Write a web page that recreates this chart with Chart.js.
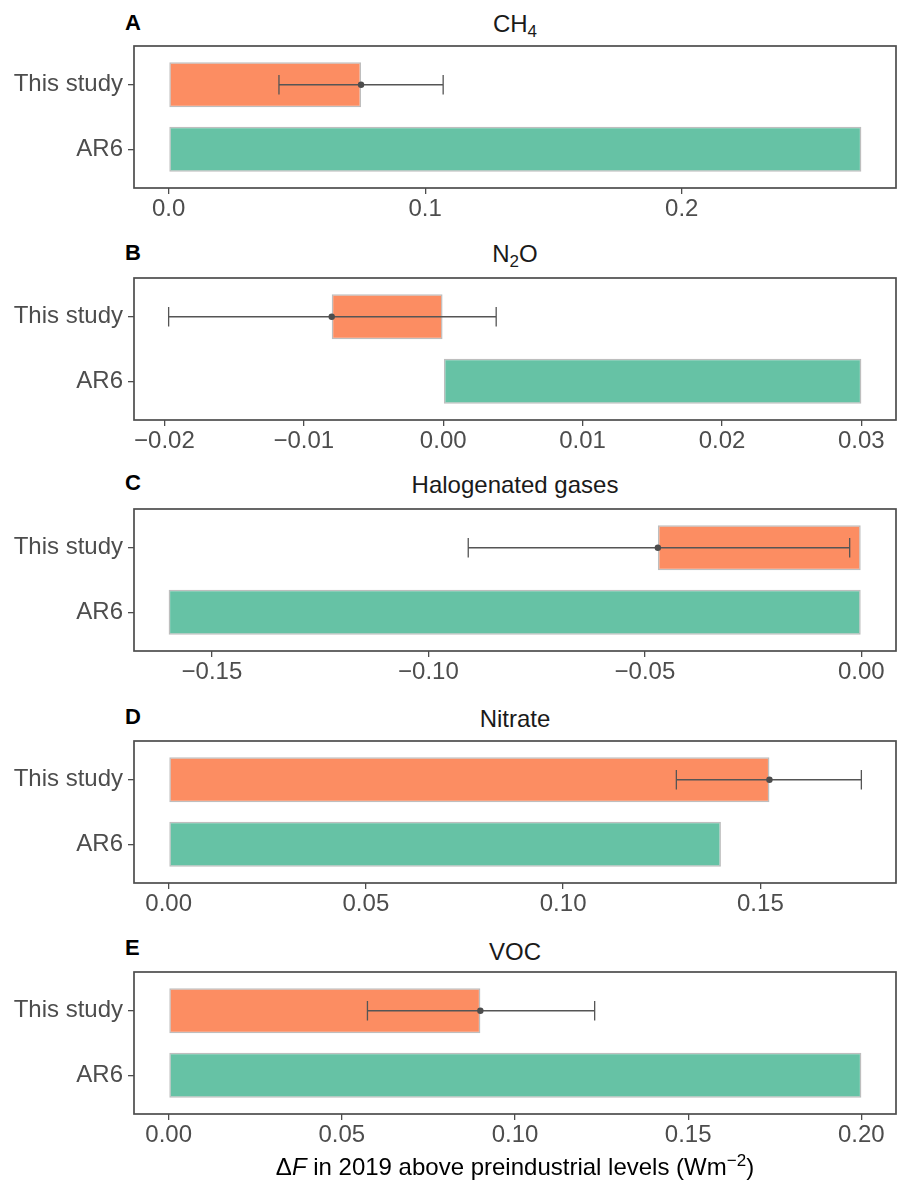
<!DOCTYPE html>
<html><head><meta charset="utf-8">
<script src="https://cdn.jsdelivr.net/npm/chart.js@4.4.1/dist/chart.umd.min.js"></script>
<style>
html,body{margin:0;padding:0;background:#fff;}
body{width:897px;height:1184px;position:relative;overflow:hidden;font-family:"Liberation Sans",Arial,sans-serif;}
canvas.cv{position:absolute;left:0;}
.lab{position:absolute;left:125px;font-weight:bold;font-size:22px;color:#000;line-height:1;white-space:nowrap;}
.ttl{position:absolute;left:134px;width:762px;text-align:center;font-size:24px;color:#1a1a1a;line-height:1;white-space:nowrap;}
.ttl sub{font-size:17px;vertical-align:-5px;line-height:0;}
.xt{position:absolute;left:134px;width:762px;text-align:center;font-size:24px;color:#000;line-height:1;white-space:nowrap;}
.xt sup{font-size:17px;vertical-align:9px;line-height:0;}
</style></head><body>
<script>
// ---- data ----
const categories = ['This study', 'AR6'];
const panelLetters = ['A', 'B', 'C', 'D', 'E'];
const panelTitles = ['CH<sub>4</sub>', 'N<sub>2</sub>O', 'Halogenated gases', 'Nitrate', 'VOC'];
const thisStudy = [0.075, -0.008, -0.047, 0.1523, 0.090];
const ar6 = [0.27, 0.030, -0.160, 0.140, 0.200];
const errLow = [0.043, -0.0197, -0.0908, 0.1287, 0.0574];
const errHigh = [0.107, 0.0038, -0.0027, 0.1756, 0.123];
const tickValues = [
  [0, 0.1, 0.2],
  [-0.02, -0.01, 0, 0.01, 0.02, 0.03],
  [-0.15, -0.10, -0.05, 0],
  [0, 0.05, 0.10, 0.15],
  [0, 0.05, 0.10, 0.15, 0.20]
];
const tickLabels = [
  ['0.0', '0.1', '0.2'],
  ['\u22120.02', '\u22120.01', '0.00', '0.01', '0.02', '0.03'],
  ['\u22120.15', '\u22120.10', '\u22120.05', '0.00'],
  ['0.00', '0.05', '0.10', '0.15'],
  ['0.00', '0.05', '0.10', '0.15', '0.20']
];
const xTitleHTML = '\u0394<i>F</i> in 2019 above preindustrial levels (Wm<sup>\u22122</sup>)';

// ---- layout ----
const boxTops = [46, 278, 509, 741, 972];
const boxH = 142;
const padTop = 20;
const axisH = 40;
const titleTops = [12, 242, 473, 707, 939.5];
const labelTops = [11.5, 241.5, 472, 705.5, 936.5];
const FONT = '"Liberation Sans", Arial, sans-serif';
const COLORS = ['#FC8D62', '#66C2A5'];

function addDiv(cls, top, html) {
  const d = document.createElement('div');
  d.className = cls; d.style.top = top + 'px'; d.innerHTML = html;
  document.body.appendChild(d);
}

const framePlugin = {
  id: 'frame',
  afterDraw(chart) {
    const a = chart.chartArea, c = chart.ctx;
    c.save();
    c.strokeStyle = '#4d4d4d';
    c.lineWidth = 1.7;
    c.strokeRect(a.left, a.top, a.right - a.left, a.bottom - a.top);
    c.restore();
  }
};

function errPlugin(i) {
  return {
    id: 'err' + i,
    afterDatasetsDraw(chart) {
      const xs = chart.scales.x, ys = chart.scales.y, c = chart.ctx;
      const y = ys.getPixelForValue(1);
      const cap = Math.abs(ys.getPixelForValue(1.15) - y);
      const x1 = xs.getPixelForValue(errLow[i]);
      const x2 = xs.getPixelForValue(errHigh[i]);
      const xp = xs.getPixelForValue(thisStudy[i]);
      c.save();
      c.strokeStyle = '#555555';
      c.lineWidth = 1.3;
      c.beginPath();
      c.moveTo(x1, y); c.lineTo(x2, y);
      c.moveTo(x1, y - cap); c.lineTo(x1, y + cap);
      c.moveTo(x2, y - cap); c.lineTo(x2, y + cap);
      c.stroke();
      c.fillStyle = '#4d4d4d';
      c.beginPath(); c.arc(xp, y, 3.2, 0, Math.PI * 2); c.fill();
      c.restore();
    }
  };
}

for (let i = 0; i < 5; i++) {
  addDiv('lab', labelTops[i], panelLetters[i]);
  addDiv('ttl', titleTops[i], panelTitles[i]);

  const cv = document.createElement('canvas');
  cv.className = 'cv';
  cv.width = 897; cv.height = padTop + boxH + axisH;
  cv.style.width = '897px'; cv.style.height = (padTop + boxH + axisH) + 'px';
  cv.style.top = (boxTops[i] - padTop) + 'px';
  document.body.appendChild(cv);

  const lo = Math.min(0, thisStudy[i], ar6[i], errLow[i]);
  const hi = Math.max(0, thisStudy[i], ar6[i], errHigh[i]);
  const ex = (hi - lo) * 0.05;

  new Chart(cv.getContext('2d'), {
    type: 'bar',
    data: {
      datasets: [{
        data: [{ x: thisStudy[i], y: 1 }, { x: ar6[i], y: 2 }],
        backgroundColor: COLORS,
        borderColor: '#BEBEBE',
        borderWidth: 1.5,
        borderSkipped: false,
        categoryPercentage: 1,
        barPercentage: 0.7
      }]
    },
    options: {
      indexAxis: 'y',
      responsive: false,
      animation: false,
      events: [],
      devicePixelRatio: 1,
      layout: { padding: { top: padTop, right: 1, left: 0, bottom: 0 } },
      plugins: { legend: { display: false }, tooltip: { enabled: false }, title: { display: false } },
      scales: {
        x: {
          type: 'linear', position: 'bottom', offset: false,
          min: lo - ex, max: hi + ex,
          afterBuildTicks: s => { s.ticks = tickValues[i].map(v => ({ value: v })); },
          afterFit: s => { s.height = axisH; },
          ticks: {
            autoSkip: false, maxRotation: 0,
            callback: (v, idx) => tickLabels[i][idx],
            font: { family: FONT, size: 24 }, color: '#4d4d4d', padding: 1
          },
          grid: { offset: false, drawOnChartArea: false, drawTicks: true, tickLength: 6, color: '#4d4d4d', lineWidth: 1.3 },
          border: { display: false }
        },
        y: {
          type: 'linear', reverse: true, min: 0.4, max: 2.6, offset: false,
          afterBuildTicks: s => { s.ticks = [{ value: 1 }, { value: 2 }]; },
          afterFit: s => { s.width = 134; },
          ticks: {
            autoSkip: false,
            callback: v => categories[Math.round(v) - 1],
            font: { family: FONT, size: 24 }, color: '#4d4d4d', padding: 5
          },
          grid: { offset: false, drawOnChartArea: false, drawTicks: true, tickLength: 6, color: '#4d4d4d', lineWidth: 1.3 },
          border: { display: false }
        }
      }
    },
    plugins: [errPlugin(i), framePlugin]
  });
}
addDiv('xt', 1155, xTitleHTML);
</script>
</body></html>
